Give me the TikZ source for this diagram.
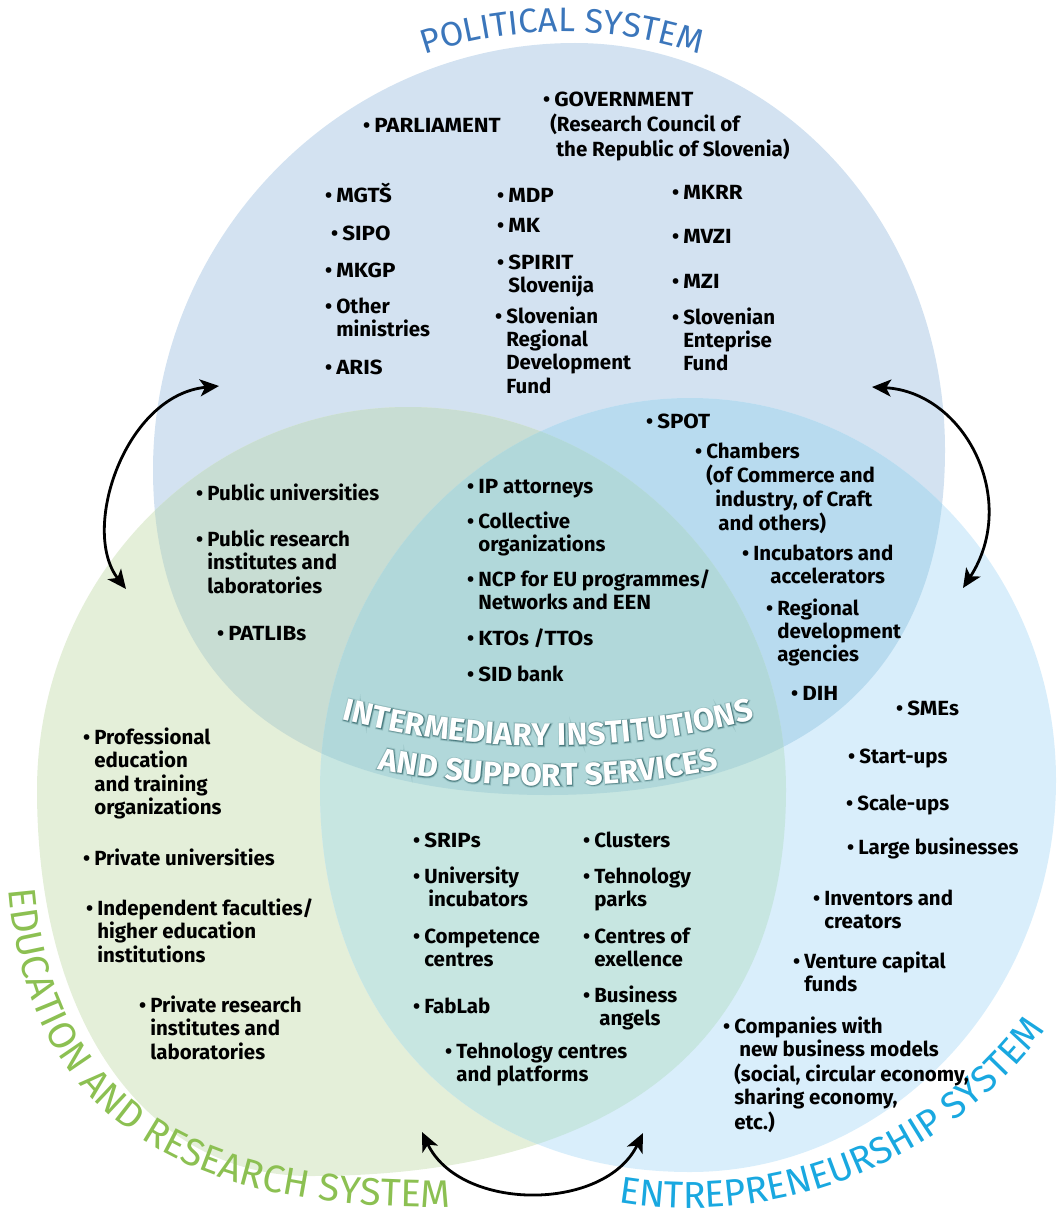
\documentclass[tikz,border=0pt]{standalone}
\usepackage{graphicx}
\usepackage{fontspec}
\setmainfont{Fira Sans}
\newfontfamily\glowA{Fira Sans}[BoldFeatures={FakeBold=10}]
\newfontfamily\glowB{Fira Sans}[BoldFeatures={FakeBold=6}]
\newfontfamily\glowC{Fira Sans}[BoldFeatures={FakeBold=3}]
\usetikzlibrary{arrows.meta,decorations.text}
\pgfdeclarelayer{bg}
\pgfsetlayers{bg,main}

\definecolor{polfill}{HTML}{D3E2F1}
\definecolor{edufill}{HTML}{E4EFD9}
\definecolor{entfill}{HTML}{D9EEFB}
\definecolor{poledu}{HTML}{C8DDD3}
\definecolor{polent}{HTML}{B8DBEF}
\definecolor{eduent}{HTML}{C7E6E1}
\definecolor{allthree}{HTML}{B1D8DA}
\definecolor{polblue}{HTML}{3B76BB}
\definecolor{edugreen}{HTML}{8CC052}
\definecolor{entcyan}{HTML}{19A8E0}
\definecolor{glowteal}{HTML}{245A5E}

\tikzset{
    listitem/.style={anchor=base west, inner sep=0pt, font=\bfseries\fontsize{20.5}{23.3}\selectfont}
}
\tikzset{
    biarrow/.style={{Stealth[length=19pt,width=17pt,inset=5pt]}-{Stealth[length=19pt,width=17pt,inset=5pt]}, line width=2.8pt}
}
\newcommand{\itm}[1]{•\hspace{4pt}\begin{tabular}[t]{@{}l@{}}#1\end{tabular}}
\newcommand{\cw}[1]{\scalebox{1.09}[1]{#1}}

\newcommand{\polshape}{(575,43) .. controls (779,43) and (945,226) .. (945,450) .. controls (945,674) and (806,795) .. (548,795) .. controls (291,795) and (153,681) .. (153,470) .. controls (153,235) and (343,43) .. (575,43) -- cycle}
\newcommand{\edushape}{(408,407) .. controls (616,407) and (786,579) .. (786,790) .. controls (786,1041) and (619,1176) .. (310,1176) .. controls (146,1176) and (37,1022) .. (37,790) .. controls (37,579) and (204,407) .. (408,407) -- cycle}
\newcommand{\entshape}{(690,398) .. controls (891,398) and (1056,570) .. (1056,780) .. controls (1056,996) and (891,1172) .. (690,1172) .. controls (468,1172) and (320,1019) .. (320,790) .. controls (320,574) and (486,398) .. (690,398) -- cycle}

\begin{document}
\begin{tikzpicture}[x=1pt, y=-1pt]
    \useasboundingbox (0,0) rectangle (1058,1217);

    \begin{pgfonlayer}{bg}
        \fill[polfill] \polshape;
        \fill[edufill] \edushape;
        \fill[entfill] \entshape;
        \begin{scope} \clip \polshape; \fill[poledu] \edushape; \end{scope}
        \begin{scope} \clip \polshape; \fill[polent] \entshape; \end{scope}
        \begin{scope} \clip \edushape; \fill[eduent] \entshape; \end{scope}
        \begin{scope} \clip \polshape; \clip \edushape; \fill[allthree] \entshape; \end{scope}
    \end{pgfonlayer}

    % system names along the rims
    \path[decorate, decoration={text along path, text align=center,
        text={|\fontsize{34}{34}\selectfont\color{polblue}|POLITICAL SYSTEM}},
        shift={(562,464)}] (-118:432) arc[start angle=-118, end angle=-62, radius=432];
    \path[decorate, decoration={text along path, text align=center,
        text={|\fontsize{38.5}{38.5}\selectfont\color{edugreen}|EDUCATION AND RESEARCH SYSTEM}}]
        (7,860) .. controls (15,1122) and (185,1218) .. (480,1206);
    \path[decorate, decoration={text along path, text align=center,
        text={|\fontsize{37.5}{37.5}\selectfont\color{entcyan}|ENTREPRENEURSHIP SYSTEM}},
        shift={(690,765)}] (104:443) arc[start angle=104, end angle=32, radius=443];

    % centre title with glow
    \begin{scope}[opacity=.12]
        \path[decorate, decoration={text along path, text align=center,
            text={|\glowA\bfseries\fontsize{31.5}{31.5}\selectfont\color{glowteal}|INTERMEDIARY INSTITUTIONS}},
            shift={(548,-75)}] (110:821) arc[start angle=110, end angle=70, radius=821];
        \path[decorate, decoration={text along path, text align=center,
            text={|\glowA\bfseries\fontsize{31.5}{31.5}\selectfont\color{glowteal}|AND SUPPORT SERVICES}},
            shift={(548,-75)}] (110:861) arc[start angle=110, end angle=70, radius=861];
    \end{scope}
    \begin{scope}[opacity=.2]
        \path[decorate, decoration={text along path, text align=center,
            text={|\glowB\bfseries\fontsize{31.5}{31.5}\selectfont\color{glowteal}|INTERMEDIARY INSTITUTIONS}},
            shift={(548,-75)}] (110:821) arc[start angle=110, end angle=70, radius=821];
        \path[decorate, decoration={text along path, text align=center,
            text={|\glowB\bfseries\fontsize{31.5}{31.5}\selectfont\color{glowteal}|AND SUPPORT SERVICES}},
            shift={(548,-75)}] (110:861) arc[start angle=110, end angle=70, radius=861];
    \end{scope}
    \begin{scope}[opacity=.3]
        \path[decorate, decoration={text along path, text align=center,
            text={|\glowC\bfseries\fontsize{31.5}{31.5}\selectfont\color{glowteal}|INTERMEDIARY INSTITUTIONS}},
            shift={(548,-75)}] (110:821) arc[start angle=110, end angle=70, radius=821];
        \path[decorate, decoration={text along path, text align=center,
            text={|\glowC\bfseries\fontsize{31.5}{31.5}\selectfont\color{glowteal}|AND SUPPORT SERVICES}},
            shift={(548,-75)}] (110:861) arc[start angle=110, end angle=70, radius=861];
    \end{scope}
    \path[decorate, decoration={text along path, text align=center,
        text={|\bfseries\fontsize{31.5}{31.5}\selectfont\color{white}|INTERMEDIARY INSTITUTIONS}},
        shift={(548,-75)}] (110:821) arc[start angle=110, end angle=70, radius=821];
    \path[decorate, decoration={text along path, text align=center,
        text={|\bfseries\fontsize{31.5}{31.5}\selectfont\color{white}|AND SUPPORT SERVICES}},
        shift={(548,-75)}] (110:861) arc[start angle=110, end angle=70, radius=861];

    % political system
    \node (parl) [listitem] at (363,133) {\itm{\cw{PARLIAMENT}}};
    \node (gov) [listitem] at (543,107) {\itm{\cw{GOVERNMENT}\\\hspace{-4pt}(Research Council of\\\hspace{2pt}the Republic of Slovenia)}};
    \node (mgts) [listitem] at (325,202) {\itm{\cw{MGTŠ}}};
    \node (sipo) [listitem] at (331,240) {\itm{\cw{SIPO}}};
    \node (mkgp) [listitem] at (325,277) {\itm{\cw{MKGP}}};
    \node (othmin) [listitem] at (325,313) {\itm{Other\\ministries}};
    \node (aris) [listitem] at (325,374) {\itm{\cw{ARIS}}};
    \node (mdp) [listitem] at (497,202) {\itm{\cw{MDP}}};
    \node (mk) [listitem] at (497,232) {\itm{\cw{MK}}};
    \node (spirit) [listitem] at (497,269) {\itm{\cw{SPIRIT}\\Slovenija}};
    \node (srdf) [listitem] at (495,323) {\itm{Slovenian\\Regional\\Development\\Fund}};
    \node (mkrr) [listitem] at (672,199) {\itm{\cw{MKRR}}};
    \node (mvzi) [listitem] at (672,243) {\itm{\cw{MVZI}}};
    \node (mzi) [listitem] at (672,288) {\itm{\cw{MZI}}};
    \node (sef) [listitem] at (672,324) {\itm{Slovenian\\Enteprise\\Fund}};

    % political and education
    \node (pubuni) [listitem] at (196,500) {\itm{Public universities}};
    \node (pubres) [listitem] at (196,546) {\itm{Public research\\institutes and\\laboratories}};
    \node (patlib) [listitem] at (217,640) {\itm{\cw{PATLIB}s}};

    % all three
    \node (ipatt) [listitem] at (467,493) {\itm{\cw{IP} attorneys}};
    \node (collorg) [listitem] at (467,528) {\itm{Collective\\organizations}};
    \node (ncp) [listitem] at (467,586) {\itm{NCP for EU programmes/\\Networks and \cw{EEN}}};
    \node (kto) [listitem] at (467,645) {\itm{\cw{KTO}s /\cw{TTO}s}};
    \node (sid) [listitem] at (467,681) {\itm{\cw{SID} bank}};

    % political and entrepreneurship
    \node (spot) [listitem] at (646,428) {\itm{\cw{SPOT}}};
    \node (chamb) [listitem] at (695,458) {\itm{Chambers\\(of Commerce and\\\hspace{9pt}industry, of Craft\\\hspace{12pt}and others)}};
    \node (incub) [listitem] at (742,560) {\itm{Incubators and\\\hspace{17pt}accelerators}};
    \node (regdev) [listitem] at (766,615) {\itm{Regional\\development\\agencies}};
    \node (dih) [listitem] at (791,700) {\itm{\cw{DIH}}};

    % entrepreneurship
    \node (smes) [listitem] at (896,715) {\itm{\cw{SME}s}};
    \node (startups) [listitem] at (848,763) {\itm{Start-ups}};
    \node (scaleups) [listitem] at (846,810) {\itm{Scale-ups}};
    \node (largebus) [listitem] at (847,854) {\itm{Large businesses}};
    \node (invent) [listitem] at (813,905) {\itm{Inventors and\\creators}};
    \node (venture) [listitem] at (793,968) {\itm{Venture capital\\funds}};
    \node (compnbm) [listitem] at (723,1033) {\itm{Companies with\\\hspace{5pt}new business models\\(social, circular economy,\\sharing economy,\\etc.)}};

    % education
    \node (profedu) [listitem] at (83,744) {\itm{Professional\\education\\and training\\organizations}};
    \node (privuni) [listitem] at (83,865) {\itm{Private universities}};
    \node (indfac) [listitem] at (86,915) {\itm{Independent faculties/\\higher education\\institutions}};
    \node (privres) [listitem] at (139,1012) {\itm{Private research\\institutes and\\laboratories}};

    % education and entrepreneurship
    \node (srips) [listitem] at (413,847) {\itm{\cw{SRIP}s}};
    \node (uniinc) [listitem] at (413,883) {\itm{University\\\hspace{4pt}incubators}};
    \node (compc) [listitem] at (413,943) {\itm{Competence\\centres}};
    \node (fablab) [listitem] at (413,1013) {\itm{FabLab}};
    \node (tehcp) [listitem] at (445,1058) {\itm{Tehnology centres\\and platforms}};
    \node (clust) [listitem] at (583,847) {\itm{Clusters}};
    \node (tehpark) [listitem] at (583,883) {\itm{Tehnology\\parks}};
    \node (centex) [listitem] at (583,943) {\itm{Centres of\\exellence}};
    \node (busang) [listitem] at (583,1002) {\itm{Business\\\hspace{5pt}angels}};

    % links between the systems
    \coordinate (polL) at (219,386);
    \coordinate (eduL) at (126,589);
    \coordinate (polR) at (872,387);
    \coordinate (entR) at (963,588);
    \coordinate (eduB) at (422,1132);
    \coordinate (entB) at (643,1133);

    \draw[biarrow] (polL) .. controls (125,395) and (80,530) .. (eduL);
    \draw[biarrow] (polR) .. controls (965,392) and (1020,500) .. (entR);
    \draw[biarrow] (eduB) .. controls (460,1212) and (605,1212) .. (entB);
\end{tikzpicture}
\end{document}
